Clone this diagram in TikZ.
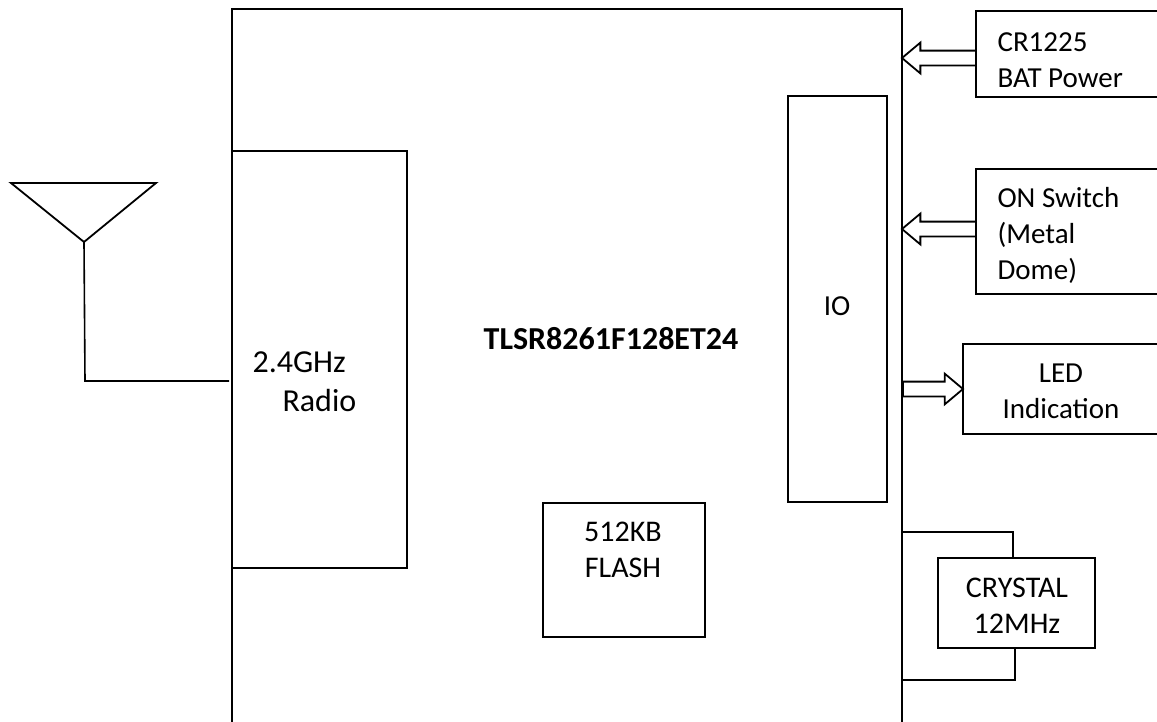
\documentclass[tikz,border=0pt]{standalone}
\usepackage{fontspec}
\setmainfont{Carlito}
\usetikzlibrary{shapes.arrows}

\begin{document}
\begin{tikzpicture}
[
	x=1pt,
	y=-1pt,
	every node/.style={font=\fontsize{29}{36}\selectfont},
	blockbox/.style={rectangle,draw,line width=1.8pt,anchor=north west,inner sep=0pt,outer sep=0pt},
	blockarrow/.style={single arrow,draw,line width=1.8pt,anchor=tip,inner sep=0pt,inner ysep=6.5pt,outer sep=0pt,single arrow head extend=8pt,single arrow tip angle=80,minimum height=74pt},
	wire/.style={line width=1.6pt}
]

	% page
	\clip (0,0) rectangle (1157,721);

	% block arrows
	\node[blockarrow,shape border rotate=180] (batarrow) at (902,58) {};
	\node[blockarrow,shape border rotate=180] (switcharrow) at (902,229) {};
	\node[blockarrow,minimum height=60pt] (ledarrow) at (963,389) {};

	% chip
	\node[blockbox,minimum width=670pt,minimum height=740pt] (chip) at (232,9) {};
	\node[font=\fontsize{32}{36}\selectfont\bfseries] (chipname) at (611,339) {TLSR8261F128ET24};
	\node[blockbox,minimum width=175pt,minimum height=417pt] (radio) at (232,151) {};
	\node[anchor=west,align=left,font=\fontsize{32}{39}\selectfont] (radioname) at (249,382) {2.4GHz\\\hspace*{30pt}Radio};
	\node[blockbox,minimum width=99pt,minimum height=406pt] (io) at (788,96) {};
	\node (ioname) at (837,306) {IO};
	\node[blockbox,minimum width=162pt,minimum height=134pt] (flash) at (543,503) {};
	\node[align=center,font=\fontsize{30}{36}\selectfont] (flashname) at (623,550) {512KB\\FLASH};

	% outside blocks
	\node[blockbox,minimum width=204pt,minimum height=86pt] (bat) at (976,11) {};
	\node[anchor=west,align=left] (batname) at (994,60) {CR1225\\BAT Power};
	\node[blockbox,minimum width=204pt,minimum height=125pt] (switch) at (976,169) {};
	\node[anchor=west,align=left] (switchname) at (994,235) {ON Switch\\(Metal\\Dome)};
	\node[blockbox,minimum width=204pt,minimum height=90pt] (led) at (963,344) {};
	\node[align=center] (ledname) at (1061,391) {LED\\Indication};
	\node[blockbox,minimum width=157pt,minimum height=90pt] (crystal) at (938,558) {};
	\node[align=center,font=\fontsize{30}{36}\selectfont] (crystalname) at (1017,606) {CRYSTAL\\12MHz};

	% crystal wires
	\draw[wire] (crystal.north west) ++(75,0) coordinate (xtaltop) -- (xtaltop |- 0,532) -- (chip.east |- 0,532);
	\draw[wire] (crystal.south west) ++(77,0) coordinate (xtalbot) -- (xtalbot |- 0,680) -- (chip.east |- 0,680);

	% antenna
	\coordinate (antleft) at (11,183);
	\coordinate (antright) at (156,183);
	\coordinate (antfoot) at (84,242);
	\coordinate (antbend) at (85,381);
	\draw[line width=1.8pt,line join=miter] (antleft) -- (antright) -- (antfoot) -- cycle;
	\draw[wire] (antfoot) -- (antbend) -- (229,381);

\end{tikzpicture}
\end{document}
